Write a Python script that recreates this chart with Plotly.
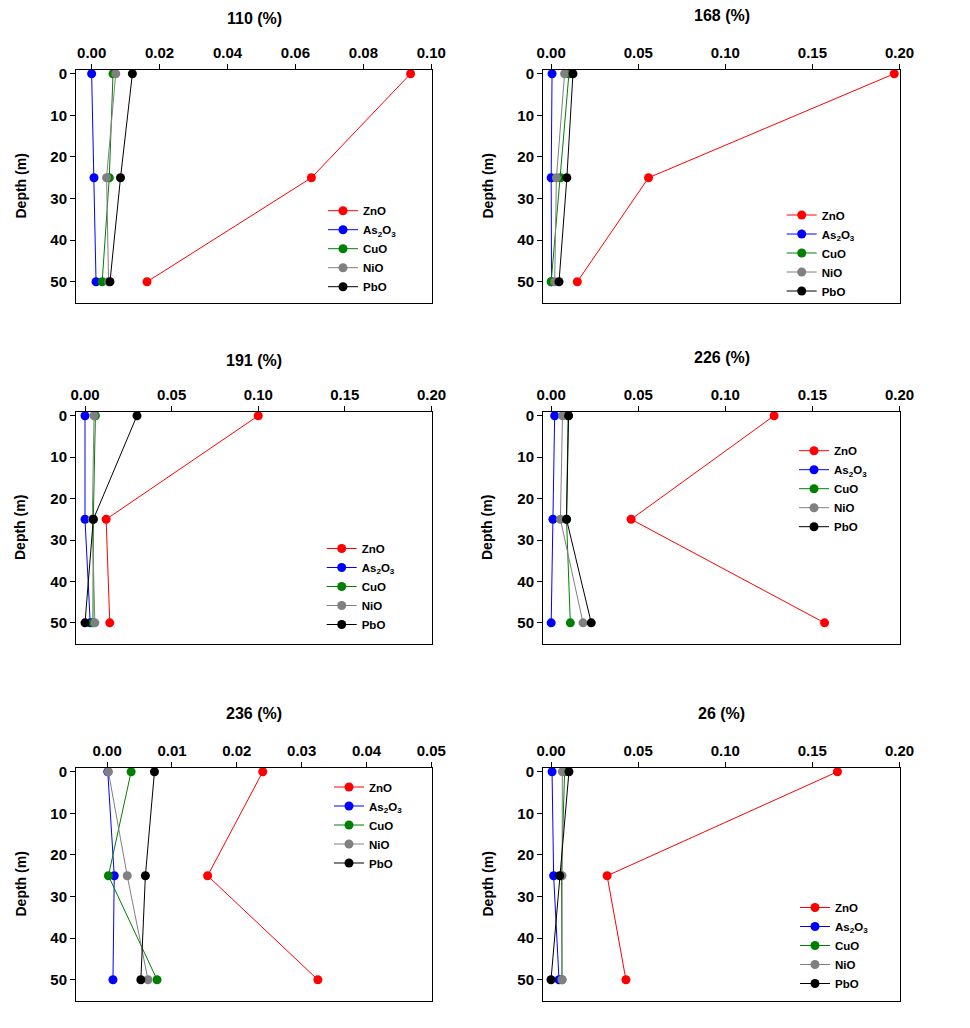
import plotly.graph_objects as go

W, H = 970, 1028
FONT = "Liberation Sans, Arial, sans-serif"

depth = [0, 25, 50]
species = ["ZnO", "As<sub>2</sub>O<sub>3</sub>", "CuO", "NiO", "PbO"]
colors = ["#ff0000", "#0000ff", "#008000", "#808080", "#000000"]

panel_titles = ["110 (%)", "168 (%)", "191 (%)", "226 (%)", "236 (%)", "26 (%)"]

# values per panel: ZnO, As2O3, CuO, NiO, PbO  at depths 0, 25, 50 m
p110 = [[0.0939, 0.0647, 0.0163], [0.0000, 0.0007, 0.0013], [0.0063, 0.0052, 0.0031],
        [0.0071, 0.0044, 0.0050], [0.0120, 0.0085, 0.0054]]
p168 = [[0.1970, 0.0559, 0.0150], [0.0005, 0.0000, 0.0002], [0.0102, 0.0053, 0.0000],
        [0.0077, 0.0030, 0.0020], [0.0125, 0.0090, 0.0045]]
p191 = [[0.1000, 0.0122, 0.0143], [0.0000, 0.0000, 0.0030], [0.0060, 0.0048, 0.0046],
        [0.0052, 0.0042, 0.0057], [0.0300, 0.0048, 0.0000]]
p226 = [[0.1280, 0.0459, 0.1570], [0.0020, 0.0010, 0.0000], [0.0097, 0.0088, 0.0110],
        [0.0065, 0.0053, 0.0183], [0.0100, 0.0088, 0.0230]]
p236 = [[0.0240, 0.0155, 0.0325], [0.0001, 0.0011, 0.0009], [0.0037, 0.0002, 0.0077],
        [0.0002, 0.0031, 0.0063], [0.0073, 0.0059, 0.0052]]
p26 = [[0.1644, 0.0322, 0.0430], [0.0006, 0.0015, 0.0046], [0.0078, 0.0060, 0.0063],
       [0.0065, 0.0063, 0.0063], [0.0103, 0.0050, 0.0000]]
panels = [p110, p168, p191, p226, p236, p26]

x_ranges = [[-0.0046, 0.1002], [-0.0047, 0.2003], [-0.0052, 0.2003],
            [-0.0047, 0.2003], [-0.0048, 0.0501], [-0.0046, 0.2003]]
x_dticks = [0.02, 0.05, 0.05, 0.05, 0.01, 0.05]
y_range = [55.1, -0.9]
y_ticks = [0, 10, 20, 30, 40, 50]

# layout geometry (pixels)
col_px = [(76, 432), (543, 900)]
row_px = [(70, 303), (412, 644), (768, 1001)]
title_y_px = [18, 16, 360, 357, 713, 713]
ytitle_x_px = [20, 487]
legend_px = [(313, 248.7), (771.7, 253), (311.7, 586.5), (784, 488.7), (319, 825), (785, 945.5)]

fig = go.Figure()
layout = dict(width=W, height=H, margin=dict(l=0, r=0, t=0, b=0, autoexpand=False),
              paper_bgcolor="white", plot_bgcolor="white", showlegend=True,
              font=dict(family=FONT, color="black"))
annotations = []

for i, vals in enumerate(panels):
    r, c = divmod(i, 2)
    n = "" if i == 0 else str(i + 1)
    xa, ya = "x" + n, "y" + n
    lg = "legend" + n
    for s, name in enumerate(species):
        fig.add_trace(go.Scatter(
            x=vals[s], y=depth, mode="lines+markers", name=name,
            xaxis=xa, yaxis=ya, legend=lg,
            line=dict(color=colors[s], width=1),
            marker=dict(color=colors[s], size=9, line=dict(width=0)),
        ))
    x0, x1 = col_px[c]
    y0, y1 = row_px[r]
    layout["xaxis" + n] = dict(
        domain=[x0 / W, x1 / W], anchor=ya, side="top", range=x_ranges[i],
        dtick=x_dticks[i], tick0=0, tickformat=".2f", ticks="outside", ticklen=5,
        tickwidth=1, tickcolor="black", showline=True, linecolor="black", linewidth=1,
        mirror=True, showgrid=False, zeroline=False,
        tickfont=dict(family=FONT, size=15, weight="bold", color="black"))
    layout["yaxis" + n] = dict(
        domain=[1 - y1 / H, 1 - y0 / H], anchor=xa, range=y_range,
        tickvals=y_ticks, ticks="outside", ticklen=5, tickwidth=1, tickcolor="black",
        showline=True, linecolor="black", linewidth=1, mirror=True,
        showgrid=False, zeroline=False,
        tickfont=dict(family=FONT, size=15, weight="bold", color="black"))
    annotations.append(dict(
        text=panel_titles[i], xref="paper", yref="paper",
        x=(x0 + x1) / 2 / W, y=1 - title_y_px[i] / H, xanchor="center", yanchor="middle",
        showarrow=False, font=dict(family=FONT, size=16, weight="bold", color="black")))
    annotations.append(dict(
        text="Depth (m)", xref="paper", yref="paper", textangle=-90,
        x=ytitle_x_px[c] / W, y=1 - (y0 + y1) / 2 / H, xanchor="center", yanchor="middle",
        showarrow=False, font=dict(family=FONT, size=14, weight="bold", color="black")))
    lx, ly = legend_px[i]
    layout[lg] = dict(
        x=(lx + 10) / W, y=1 - ly / H, xanchor="left", yanchor="middle",
        xref="paper", yref="paper", bgcolor="rgba(0,0,0,0)", borderwidth=0,
        font=dict(family=FONT, size=11.5, weight="bold", color="black"),
        tracegroupgap=0, itemclick=False)

layout["annotations"] = annotations
fig.update_layout(**layout)
fig.write_html("out.html", config={"displayModeBar": False},
               post_script="document.body.style.margin='0';document.body.style.overflow='hidden';")
